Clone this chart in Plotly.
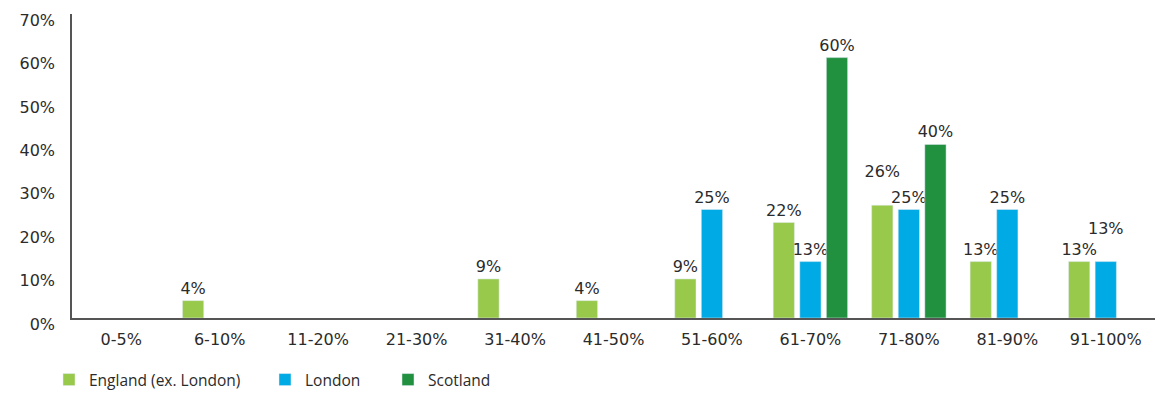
import plotly.graph_objects as go

categories = ["0-5%", "6-10%", "11-20%", "21-30%", "31-40%", "41-50%",
              "51-60%", "61-70%", "71-80%", "81-90%", "91-100%"]
england = [None, 4, None, None, 9, 4, 9, 22, 26, 13, 13]
london = [None, None, None, None, None, None, 25, 13, 25, 25, 13]
scotland = [None, None, None, None, None, None, None, 60, 40, None, None]
# labels lifted one line in the reference to avoid overlapping neighbours
england_lifted = ["71-80%"]
london_lifted = ["91-100%"]
y_ticks = [0, 10, 20, 30, 40, 50, 60, 70]
y_tick_labels = ["0%", "10%", "20%", "30%", "40%", "50%", "60%", "70%"]

FONT = "DejaVu Sans, Verdana, sans-serif"
LFONT = "Open Sans, Noto Sans, sans-serif"
TXT = "#2b2b2b"
BASE = "%{y:.0f}%"
LIFT = "%{y:.0f}%<br>\u00a0"


def templates(lifted):
    return [LIFT if c in lifted else BASE for c in categories]


series = [
    ("England (ex. London)", england, "#98c94b", "legend", templates(england_lifted)),
    ("London", london, "#00aae4", "legend2", templates(london_lifted)),
    ("Scotland", scotland, "#21903f", "legend3", templates([])),
]

fig = go.Figure()
for name, vals, color, lg, tt in series:
    fig.add_trace(go.Bar(
        x=categories, y=vals, name=name, marker_color=color,
        texttemplate=tt, textposition="outside",
        constraintext="none",
        textfont=dict(size=16, color=TXT, family=FONT),
        cliponaxis=False, legend=lg,
    ))

legend_common = dict(orientation="h", xref="container", yref="container",
                     yanchor="middle", y=1 - 380 / 393,
                     font=dict(size=15.5, color=TXT, family=LFONT),
                     bgcolor="rgba(0,0,0,0)")

fig.update_layout(
    width=1162, height=393,
    margin=dict(l=72, r=7, t=14, b=75),
    paper_bgcolor="white", plot_bgcolor="white",
    barmode="group", bargap=0.19, bargroupgap=0.2,
    font=dict(family=FONT, size=16, color=TXT),
    showlegend=True,
    legend=dict(x=49 / 1162, **legend_common),
    legend2=dict(x=265 / 1162, **legend_common),
    legend3=dict(x=388 / 1162, **legend_common),
)
fig.update_xaxes(showgrid=False, showline=True, linecolor="#555555", linewidth=2,
                 ticks="", tickfont=dict(size=16, color=TXT, family=FONT),
                 ticklabelstandoff=6, fixedrange=True)
fig.update_yaxes(range=[0, 70.05], tickvals=y_ticks, ticktext=y_tick_labels,
                 showgrid=False, zeroline=False, showline=True,
                 linecolor="#555555", linewidth=1.5, ticks="",
                 tickfont=dict(size=16, color=TXT, family=FONT),
                 ticklabelstandoff=12, ticklabelshift=6)

fig.write_html("out.html")
